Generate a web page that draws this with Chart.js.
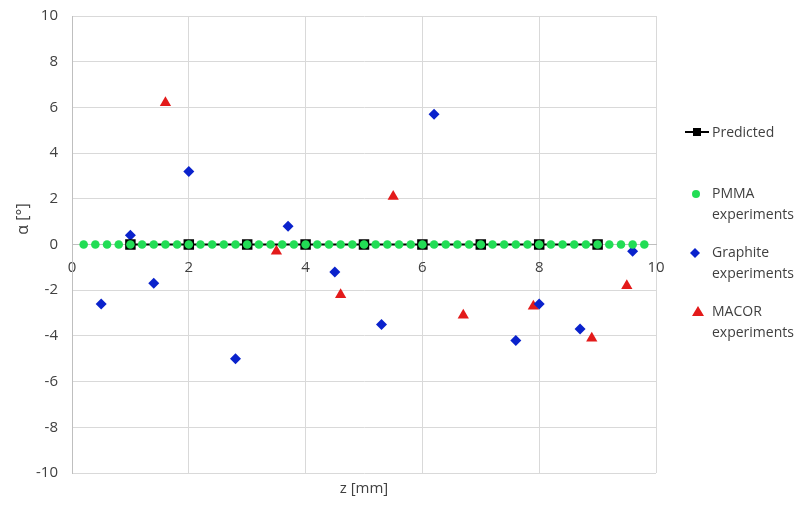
<!DOCTYPE html>
<html>
<head>
<meta charset="utf-8">
<script src="https://cdn.jsdelivr.net/npm/chart.js@4"></script>
<style>
  body { margin: 0; background: #fff; }
  #wrap { position: relative; width: 804px; height: 505px; }
  .leg { position: absolute; font-family: 'Open Sans', sans-serif; font-size: 14px; color: #404040; line-height: 21px; }
  .mk { position: absolute; }
</style>
</head>
<body>
<div id="wrap">
  <canvas id="chart" width="804" height="505"></canvas>

  <svg class="mk" style="left:684px;top:126px" width="26" height="12">
    <line x1="1" y1="6" x2="25" y2="6" stroke="#000" stroke-width="2"/>
    <rect x="9" y="2" width="8" height="8" fill="#000"/>
  </svg>
  <div class="leg" style="left:712px;top:121px">Predicted</div>

  <svg class="mk" style="left:690px;top:188px" width="12" height="12">
    <circle cx="6" cy="6" r="4" fill="#22dd55"/>
  </svg>
  <div class="leg" style="left:712px;top:182px">PMMA<br>experiments</div>

  <svg class="mk" style="left:689px;top:247px" width="12" height="12">
    <polygon points="6,1 11,6 6,11 1,6" fill="#0a22cc"/>
  </svg>
  <div class="leg" style="left:712px;top:241px">Graphite<br>experiments</div>

  <svg class="mk" style="left:691px;top:305px" width="14" height="12">
    <polygon points="7,1 13,11 1,11" fill="#e31a1a"/>
  </svg>
  <div class="leg" style="left:712px;top:300px">MACOR<br>experiments</div>
</div>
<script>
const predictedZ = [1, 2, 3, 4, 5, 6, 7, 8, 9];
const predictedAlpha = [0, 0, 0, 0, 0, 0, 0, 0, 0];

const pmmaZ = [0.2, 0.4, 0.6, 0.8, 1.0, 1.2, 1.4, 1.6, 1.8, 2.0,
  2.2, 2.4, 2.6, 2.8, 3.0, 3.2, 3.4, 3.6, 3.8, 4.0,
  4.2, 4.4, 4.6, 4.8, 5.0, 5.2, 5.4, 5.6, 5.8, 6.0,
  6.2, 6.4, 6.6, 6.8, 7.0, 7.2, 7.4, 7.6, 7.8, 8.0,
  8.2, 8.4, 8.6, 8.8, 9.0, 9.2, 9.4, 9.6, 9.8];
const pmmaAlpha = [0, 0, 0, 0, 0, 0, 0, 0, 0, 0,
  0, 0, 0, 0, 0, 0, 0, 0, 0, 0,
  0, 0, 0, 0, 0, 0, 0, 0, 0, 0,
  0, 0, 0, 0, 0, 0, 0, 0, 0, 0,
  0, 0, 0, 0, 0, 0, 0, 0, 0];

const graphiteZ = [0.5, 1.0, 1.4, 2.0, 2.8, 3.7, 4.5, 5.3, 6.2, 7.6, 8.0, 8.7, 9.6];
const graphiteAlpha = [-2.6, 0.4, -1.7, 3.2, -5.0, 0.8, -1.2, -3.5, 5.7, -4.2, -2.6, -3.7, -0.3];

const macorZ = [1.6, 3.5, 4.6, 5.5, 6.7, 7.9, 8.9, 9.5];
const macorAlpha = [6.2, -0.3, -2.2, 2.1, -3.1, -2.7, -4.1, -1.8];

const yTicks = [-10, -8, -6, -4, -2, 0, 2, 4, 6, 8, 10];
const xTicks = [0, 2, 4, 6, 8, 10];

const toPoints = (xs, ys) => xs.map((x, i) => ({ x: x, y: ys[i] }));

const tickFont = { family: "'Open Sans', sans-serif", size: 15 };
const textColor = '#404040';
const gridColor = '#d9d9d9';

// y title sits a bit above the middle of the axis in the original, so draw it ourselves
const yTitlePlugin = {
  id: 'yTitle',
  afterDraw(chart) {
    const ctx = chart.ctx;
    ctx.save();
    ctx.translate(23, 219);
    ctx.rotate(-Math.PI / 2);
    ctx.font = "16px 'Open Sans', sans-serif";
    ctx.fillStyle = textColor;
    ctx.textAlign = 'center';
    ctx.textBaseline = 'middle';
    ctx.fillText('α [°]', 0, 0);
    ctx.restore();
  }
};

new Chart(document.getElementById('chart'), {
  type: 'scatter',
  data: {
    datasets: [
      {
        label: 'PMMA experiments',
        data: toPoints(pmmaZ, pmmaAlpha),
        pointStyle: 'circle',
        pointRadius: 4.3,
        backgroundColor: '#22dd55',
        borderWidth: 0,
        xAxisID: 'x'
      },
      {
        label: 'Predicted',
        data: toPoints(predictedZ, predictedAlpha),
        showLine: true,
        borderColor: '#000',
        borderWidth: 2,
        pointStyle: 'rect',
        pointRadius: 6,
        backgroundColor: '#000',
        xAxisID: 'x'
      },
      {
        label: 'Graphite experiments',
        data: toPoints(graphiteZ, graphiteAlpha),
        pointStyle: 'rectRot',
        pointRadius: 5.5,
        backgroundColor: '#0a22cc',
        borderWidth: 0,
        xAxisID: 'x'
      },
      {
        label: 'MACOR experiments',
        data: toPoints(macorZ, macorAlpha),
        pointStyle: 'triangle',
        pointRadius: 6.5,
        backgroundColor: '#e31a1a',
        borderWidth: 0,
        xAxisID: 'x'
      }
    ]
  },
  options: {
    responsive: false,
    animation: false,
    layout: { padding: { left: 0, top: 16, right: 148, bottom: 0 } },
    plugins: { legend: { display: false }, tooltip: { enabled: false } },
    scales: {
      x: {
        type: 'linear',
        min: 0, max: 10,
        position: { y: 0 },
        afterBuildTicks: (s) => { s.ticks = xTicks.map(v => ({ value: v })); },
        ticks: { font: tickFont, color: textColor, padding: 14 },
        grid: { color: gridColor, drawTicks: false },
        border: { color: '#bfbfbf' },
        afterFit: (s) => { s.paddingTop = 0; s.paddingBottom = 0; }
      },
      xTitle: {
        type: 'linear',
        min: 0, max: 1,
        position: 'bottom',
        ticks: { display: false },
        grid: { display: false },
        border: { display: false },
        title: { display: true, text: 'z [mm]', font: tickFont, color: textColor, padding: { top: 0, bottom: 7 } },
        afterFit: (s) => { s.height = 32; s.paddingTop = 0; }
      },
      y: {
        type: 'linear',
        min: -10, max: 10,
        position: 'left',
        afterBuildTicks: (s) => { s.ticks = yTicks.map(v => ({ value: v })); },
        ticks: { font: tickFont, color: textColor, padding: 14 },
        grid: { color: gridColor, drawTicks: false },
        border: { color: '#bfbfbf' },
        afterFit: (s) => { s.width = 72; s.paddingTop = 0; s.paddingBottom = 0; }
      }
    }
  },
  plugins: [yTitlePlugin]
});
</script>
</body>
</html>
